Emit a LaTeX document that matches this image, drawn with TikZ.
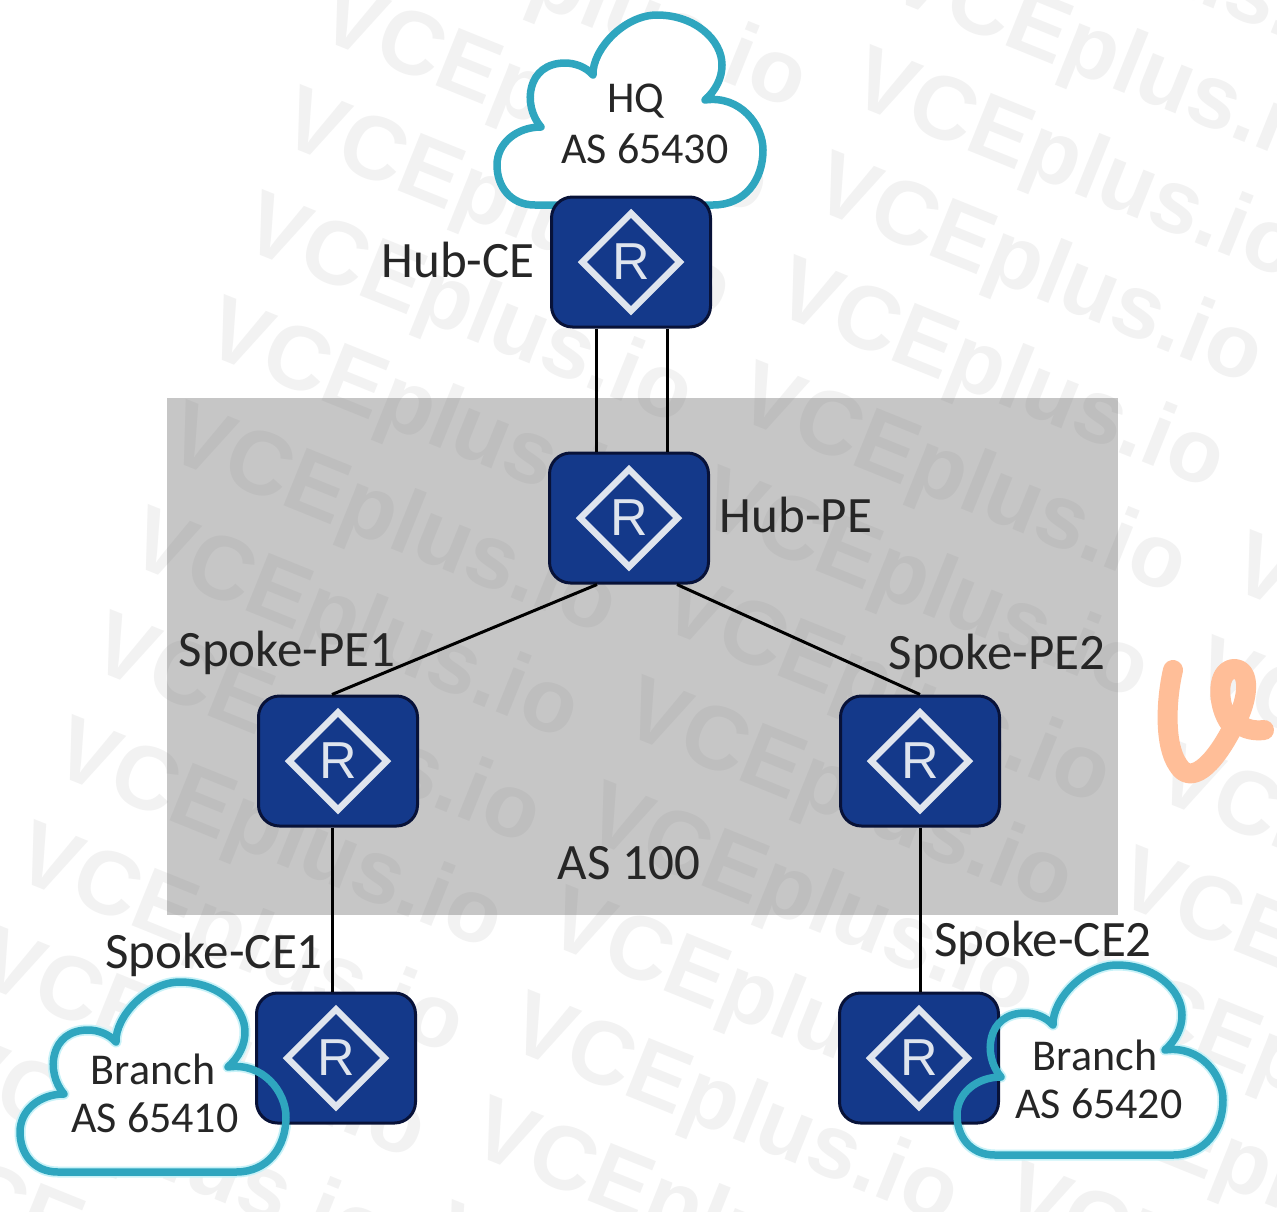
\documentclass[tikz,border=0pt]{standalone}
\usepackage{fontspec}
\setmainfont{Carlito}
\newfontfamily\rfont{Liberation Sans}
\usetikzlibrary{shapes.geometric}
\definecolor{cloudc}{HTML}{2FA6BF}
\definecolor{glowc}{HTML}{C8F2F8}
\definecolor{routerc}{HTML}{14398A}
\definecolor{routeredge}{HTML}{081238}
\definecolor{diamc}{HTML}{DFE5EE}
\definecolor{grayc}{HTML}{C6C6C6}
\definecolor{inkc}{HTML}{262626}
\definecolor{wmc}{HTML}{707070}
\definecolor{logoc}{HTML}{FFBE98}
\tikzset{
  routerbox/.style={draw=routeredge,line width=3pt,fill=routerc,rounded corners=21pt,minimum width=159pt,minimum height=130pt,inner sep=0pt},
  routerdiam/.style={diamond,draw=diamc,line width=6.5pt,minimum width=100pt,minimum height=100pt,inner sep=0pt,aspect=1},
  routerr/.style={text=diamc,font=\rfont\fontsize{52}{60}\selectfont,inner sep=0pt},
  biglabel/.style={text=inkc,font=\fontsize{51}{60}\selectfont,inner sep=0pt},
  cloudlabel/.style={text=inkc,font=\fontsize{44}{52}\selectfont,inner sep=0pt},
  link/.style={draw=black,line width=3pt},
  wmark/.style={text=wmc,text opacity=0.09,font=\rfont\bfseries\fontsize{90}{100}\selectfont,rotate=-22,anchor=west,inner sep=0pt},
  cloudline/.style={draw=cloudc,line width=7.5pt,line join=round},
  cloudglow/.style={draw=glowc,line width=11pt,line join=round}
}
\newcommand{\cloudpath}{(535,205)
  .. controls (510,205) and (497,186) .. (497,165)
  .. controls (497,143) and (517,127) .. (541,127)
  .. controls (522,105) and (527,63) .. (565,63)
  .. controls (575,63) and (586,67) .. (593,75)
  .. controls (592,50) and (624,15) .. (657,15)
  .. controls (695,15) and (722,40) .. (722,65)
  .. controls (722,78) and (716,90) .. (705,100)
  .. controls (740,95) and (763,125) .. (763,150)
  .. controls (763,180) and (745,205) .. (713,205) -- cycle}
\newcommand{\router}[3]{%
  \node[routerbox] (#1) at (#2,#3) {};
  \node[routerdiam] (#1d) at (#1) {};
  \node[routerr] (#1r) at (#1) {R};}
\begin{document}
\begin{tikzpicture}[x=1pt,y=-1pt]
\useasboundingbox (0,0) rectangle (1277,1211);
\fill[grayc] (167,398) rectangle (1118,915);
% watermark
\begin{scope}
\clip (0,0) rectangle (1277,1211);
\foreach \c in {-1,0,1,2} {
  \foreach \k in {-2,...,12} {
    \pgfmathsetmacro{\wx}{855+570*\c-38*\k}
    \pgfmathsetmacro{\wy}{80-40*\c+105*\k}
    \pgfmathparse{(\wx>-420 && \wx<1270 && \wy>-170 && \wy<1260) ? 1 : 0}
    \ifnum\pgfmathresult=1
      \node[wmark] (wm\c\k) at (\wx,\wy) {VCEplus.io};
    \fi
  }
}
\end{scope}
% logo
\draw[logoc,line width=20pt,line cap=round,line join=round]
  (1173,670) .. controls (1166,700) and (1164,745) .. (1178,765)
  .. controls (1190,785) and (1212,768) .. (1233,727)
  .. controls (1218,712) and (1214,672) .. (1233,669)
  .. controls (1252,668) and (1248,700) .. (1236,722)
  .. controls (1245,730) and (1255,731) .. (1264,730);
% clouds underneath, routers, links
\begin{scope}[shift={(-477,967)}] \draw[cloudglow,fill=white] \cloudpath; \end{scope}
\begin{scope}[shift={(460,950)}] \draw[cloudglow,fill=white] \cloudpath; \end{scope}
\fill[white] \cloudpath;
\draw[cloudline] \cloudpath;
\router{hubce}{631}{262}
\router{hubpe}{629}{518}
\router{spe}{338}{761}
\router{tpe}{920}{761}
\router{sce}{336}{1058}
\router{tce}{919}{1058}
\draw[link] ([xshift=-35pt]hubce.south) -- ([xshift=-33pt]hubpe.north);
\draw[link] ([xshift=36pt]hubce.south) -- ([xshift=38pt]hubpe.north);
\draw[link] ([xshift=-32pt]hubpe.south) -- ([xshift=-6pt]spe.north);
\draw[link] ([xshift=48pt]hubpe.south) -- (tpe.north);
\draw[link] ([xshift=-6pt]spe.south) -- ([xshift=-4pt]sce.north);
\draw[link] (tpe.south) -- ([xshift=1pt]tce.north);
\begin{scope}[shift={(-477,967)}] \draw[cloudline] \cloudpath; \end{scope}
\begin{scope}[shift={(460,950)}] \draw[cloudline] \cloudpath; \end{scope}
% labels
\node[cloudlabel] (hq) at (636,101) {HQ};
\node[cloudlabel] (hqas) at (645,149) {AS 65430};
\node[biglabel] (lhubce) at (458,260) {Hub-CE};
\node[biglabel] (lhubpe) at (796,515) {Hub-PE};
\node[biglabel] (lspe) at (287,653) {Spoke-PE1};
\node[biglabel] (ltpe) at (997,656) {Spoke-PE2};
\node[biglabel] (las) at (629,863) {AS 100};
\node[biglabel] (lsce) at (214,955) {Spoke-CE1};
\node[biglabel] (ltce) at (1043,943) {Spoke-CE2};
\node[cloudlabel] (br1) at (153,1069) {Branch};
\node[cloudlabel] (br1as) at (155,1118) {AS 65410};
\node[cloudlabel] (br2) at (1095,1055) {Branch};
\node[cloudlabel] (br2as) at (1099,1104) {AS 65420};
\end{tikzpicture}
\end{document}
